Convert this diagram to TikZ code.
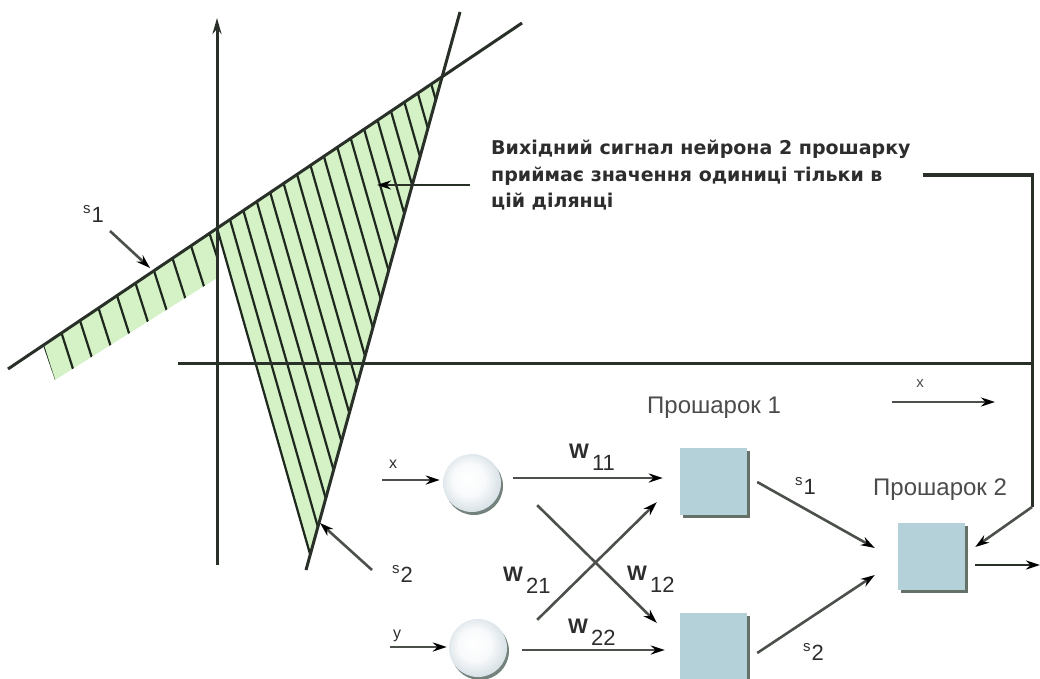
\documentclass[tikz,border=0pt]{standalone}
\usepackage{fontspec}
\setmainfont{Liberation Sans}
\newfontfamily\annfont{DejaVu Sans}
\usetikzlibrary{arrows.meta,shadows,calc}
\definecolor{lineC}{RGB}{40,48,40}
\definecolor{arrC}{RGB}{75,80,75}
\definecolor{greenC}{RGB}{212,242,198}
\definecolor{hatchC}{RGB}{30,40,30}
\definecolor{boxC}{RGB}{180,208,216}
\definecolor{boxS}{RGB}{100,112,104}
\definecolor{ballC}{RGB}{172,192,204}
\definecolor{ballS}{RGB}{115,130,125}
\definecolor{txtC}{RGB}{45,45,45}
\definecolor{grayT}{RGB}{75,75,75}
\pgfdeclareradialshading{sphereshade}{\pgfpoint{-4bp}{4bp}}{color(0bp)=(white); color(14bp)=(white!92!ballC); color(34bp)=(ballC!70!white); color(50bp)=(ballC)}
\newcommand{\wlab}[1]{\textbf{\fontsize{21}{21}\selectfont W}\hspace{3pt}\raisebox{-12pt}{\fontsize{22}{22}\selectfont #1}}
\newcommand{\slab}[1]{{\fontsize{15}{15}\selectfont s}\hspace{1pt}\raisebox{-9pt}{\fontsize{22}{22}\selectfont #1}}
\begin{document}
\begin{tikzpicture}[x=1pt,y=-1pt,
  mainline/.style={draw=lineC, line width=3pt},
  hatch/.style={draw=hatchC, line width=2.2pt},
  arr/.style={draw=arrC, line width=2.6pt, -{Stealth[length=14pt,width=9pt,color=black]}},
  ball/.style={circle, minimum size=58pt, inner sep=0pt, shading=sphereshade,
     drop shadow={shadow xshift=2pt, shadow yshift=-3pt, fill=ballS, opacity=1}},
  neuron/.style={rectangle, minimum size=67pt, inner sep=0pt, fill=boxC,
     drop shadow={shadow xshift=3pt, shadow yshift=-3pt, fill=boxS, opacity=1}},
  lab/.style={anchor=base west, inner sep=0pt, text=txtC},
  layer/.style={anchor=base west, inner sep=0pt, text=grayT, font=\fontsize{24}{24}\selectfont},
  ann/.style={anchor=base west, inner sep=0pt, text=txtC, font=\annfont\bfseries\fontsize{19}{19}\selectfont}
]
\useasboundingbox (0,0) rectangle (1040,679);

% shaded regions
\fill[greenC] (217,228) -- (442,77) -- (310,554) -- cycle;
\fill[greenC] (43,345) -- (217,228) -- (217,278) -- (55,380) -- cycle;
\begin{scope}
  \clip (217,228) -- (442,77) -- (310,554) -- cycle;
  \foreach \c in {0,...,17} {
    \draw[hatch] ({255+16*\c-0.286*363},0) -- ({255+16*\c+0.286*237},600);
  }
\end{scope}
\begin{scope}
  \clip (43,345) -- (217,228) -- (217,278) -- (55,380) -- cycle;
  \foreach \i in {0,...,9} {
    \pgfmathsetmacro{\xi}{43+18.5*\i}
    \pgfmathsetmacro{\yi}{369-0.6732*(\xi-8)}
    \draw[hatch] ({\xi-0.32*20},{\yi-20}) -- ({\xi+0.32*70},{\yi+70});
  }
\end{scope}
\draw[hatch] (217,228) -- (310,554);

% axes and lines
\draw[mainline] (8,369) -- (522,23);
\draw[mainline] (460,12) -- (306,570);
\draw[mainline, -{Stealth[length=16pt,width=9pt]}] (217,565) -- (217,18);
\draw[mainline] (178,363) -- (1032,363);

% annotation
\node[ann] (ann1) at (491,155) {Вихідний сигнал нейрона 2 прошарку};
\node[ann] (ann2) at (491,181) {приймає значення одиниці тільки в};
\node[ann] (ann3) at (491,207) {цій ділянці};
\coordinate (annA) at (470,185);
\coordinate (annT) at (377,185);
\draw[arr, draw=lineC] (annA) -- (annT);

% s1, s2 pointers (left)
\node[lab] (ls1) at (83,213) {\slab{1}};
\node[lab] (ls2) at (392,573) {\slab{2}};
\coordinate (ps1a) at (110,231);
\coordinate (ps1b) at (150,268);
\coordinate (ps2a) at (372,570);
\coordinate (ps2b) at (320,523);
\draw[arr] (ps1a) -- (ps1b);
\draw[arr] (ps2a) -- (ps2b);

% x direction
\node[anchor=base, inner sep=0pt, text=grayT, font=\fontsize{15}{15}\selectfont] (xd) at (920,387) {x};
\coordinate (xda) at (892,402);
\coordinate (xdb) at (995,402);
\draw[arr] (xda) -- (xdb);

% network
\node[ball] (I1) at (472,483) {};
\node[ball] (I2) at (478,648) {};
\node[neuron] (A) at (713.5,481.5) {};
\node[neuron] (B) at (713.5,646.5) {};
\node[neuron] (C) at (931,556) {};

\node[layer] (L1) at (647,413) {Прошарок 1};
\node[layer] (L2) at (873,495) {Прошарок 2};

\node[anchor=base, inner sep=0pt, text=txtC, font=\fontsize{16}{16}\selectfont] (inx) at (393,468) {x};
\node[anchor=base, inner sep=0pt, text=txtC, font=\fontsize{16}{16}\selectfont] (iny) at (397,638) {y};
\coordinate (inxa) at (382,480);
\coordinate (inya) at (390,647);
\draw[arr] (inxa) -- ($(I1.west)+(-3,-3)$);
\draw[arr] (inya) -- ($(I2.west)+(-2,-1)$);

\draw[arr] ($(I1.east)+(12,-5)$) -- ($(A.west)+(-17,-3.5)$);
\draw[arr] ($(I2.east)+(15,2)$) -- ($(B.west)+(-15,3.5)$);
\draw[arr] ($(I1.south east)+(44.5,1.5)$) -- ($(B.north west)+(-23,10)$);
\draw[arr] ($(I2.north east)+(38.5,-7.5)$) -- ($(A.south west)+(-23,-13)$);

\node[lab] (w11) at (569,458) {\wlab{11}};
\node[lab] (w21) at (503,581) {\wlab{21}};
\node[lab] (w12) at (627,580) {\wlab{12}};
\node[lab] (w22) at (568,633) {\wlab{22}};

\draw[arr] ($(A.east)+(10,0.5)$) -- ($(C.west)+(-22.5,-8)$);
\draw[arr] ($(B.east)+(10,6.5)$) -- ($(C.west)+(-22.5,19)$);
\node[lab] (rs1) at (795,485) {\slab{1}};
\node[lab] (rs2) at (803,651) {\slab{2}};

\coordinate (outE) at (1040,565);
\draw[arr, draw=lineC] ($(C.east)+(10.5,9)$) -- (outE);

% feedback
\coordinate (fb0) at (923,175);
\coordinate (fb1) at (1032,175);
\coordinate (fb2) at (1032,507);
\draw[mainline] (fb0) -- (fb1) -- (fb2);
\draw[arr] (fb2) -- ($(C.east)+(10.5,-9)$);
\end{tikzpicture}
\end{document}
